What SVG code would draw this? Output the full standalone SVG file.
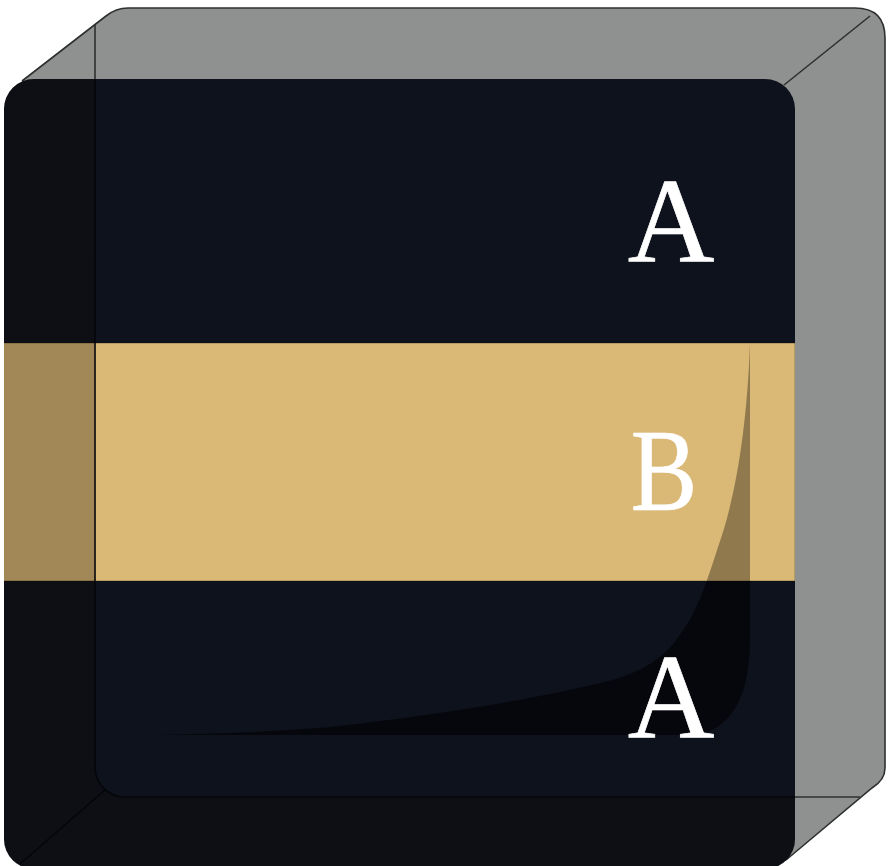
<svg xmlns="http://www.w3.org/2000/svg" width="888" height="866" viewBox="0 0 888 866">
<style>
.edge{fill:none;stroke:#2e3030;stroke-width:1.6}
.inner{fill:none;stroke:#04060a;stroke-width:1.6}
.gold-edge{fill:none;stroke:#000;stroke-opacity:.3;stroke-width:1}
.label{font-family:"Liberation Serif","DejaVu Serif",serif;fill:#fff;stroke:#fff;stroke-width:.7;text-anchor:middle}
</style>
<defs>
<clipPath id="front"><rect x="4" y="79" width="791" height="790" rx="30" ry="30"/></clipPath>
<clipPath id="band"><rect x="4" y="343" width="791" height="238"/></clipPath>
<clipPath id="below"><rect x="4" y="581" width="791" height="285"/></clipPath>
<path id="curve" d="M750 343 C747 430 735 500 718 547 C706 585 695 615 683 630 C668 655 645 673 600 683 C520 702 430 716 330 727 C270 732 210 734 150 735 H693 C735 731 750 690 750 640 Z"/>
</defs>
<rect width="888" height="866" fill="#fff"/>
<g id="box-back">
<path d="M22 81 L106 16 Q116 8 128 8 H855 Q885 8 885 38 V768 Q885 780 872 788 L786 860 L700 700 Z" fill="#8f9190"/>
<path class="edge" d="M22 81 L106 16 Q116 8 128 8 H855 Q885 8 885 38 V768 Q885 780 872 788 L786 860"/>
<path class="edge" d="M784 85 L870 16 M795 797 H860 M95 79 V24"/>
</g>
<g id="box-front" clip-path="url(#front)">
<rect x="4" y="79" width="791" height="790" fill="#0e121c"/>
<rect x="4" y="343" width="791" height="238" fill="#dab876"/>
<path class="gold-edge" d="M4 343 H795 V581 H4"/>
<use href="#curve" fill="#000" fill-opacity="0.34" clip-path="url(#band)"/>
<use href="#curve" fill="#000" fill-opacity="0.56" clip-path="url(#below)"/>
<path d="M0 0 H888 V866 H0 Z M125 8 H855 A30 30 0 0 1 885 38 V767 A30 30 0 0 1 855 797 H125 A30 30 0 0 1 95 767 V38 A30 30 0 0 1 125 8 Z" fill="#0a0800" fill-opacity="0.27" fill-rule="evenodd"/>
<path class="inner" d="M95 79 V767 A30 30 0 0 0 125 797 H795"/>
<path class="inner" d="M20 864 L106 789"/>
</g>
<g id="labels">
<text class="label" font-size="120" x="671" y="262">A</text>
<text class="label" font-size="116" transform="translate(664 510) scale(.86 1)">B</text>
<text class="label" font-size="120" x="671" y="738">A</text>
</g>
</svg>
